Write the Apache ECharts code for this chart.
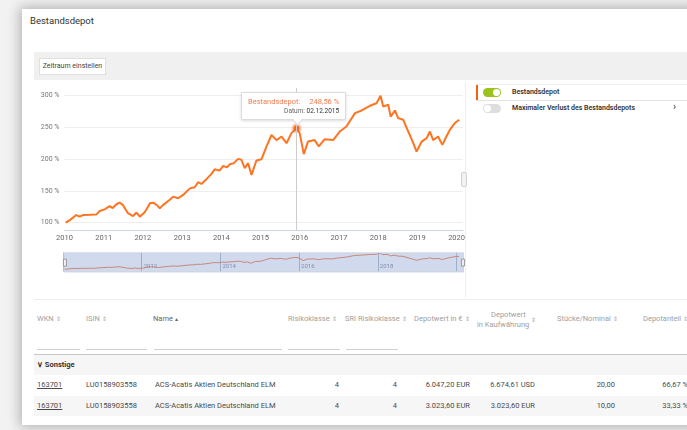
<!DOCTYPE html>
<html>
<head>
<meta charset="utf-8">
<script src="https://cdn.jsdelivr.net/npm/echarts@6/dist/echarts.min.js"></script>
<style>
  html, body { margin:0; padding:0; }
  body { width:687px; height:430px; overflow:hidden; background:#f2f2f2; position:relative; font-family: Roboto, "Open Sans", "Liberation Sans", sans-serif; color:#333; }
  .abs { position:absolute; white-space:nowrap; }
  #card { position:absolute; left:22px; top:9px; width:720px; height:416px; background:#fff; box-shadow:0 0 12px 2px rgba(0,0,0,0.28); }
  .hline { position:absolute; height:1px; }
  .vline { position:absolute; width:1px; }
  .th { position:absolute; font-size:7.5px; color:#a0a0a0; white-space:nowrap; }
  .sort { font-size:6px; margin-left:2px; color:#aaa; }
  .td { position:absolute; font-size:7.5px; color:#4a4a4a; white-space:nowrap; line-height:10px; }
  .r { text-align:right; }
  .toggle { position:absolute; width:18px; height:9px; border-radius:5px; }
  .knob { position:absolute; top:1px; width:7px; height:7px; border-radius:50%; background:#fff; }
  #chart { position:absolute; left:0; top:0; width:687px; height:430px; }
</style>
</head>
<body>
<div id="card"></div>
<div class="abs" style="left:30px;top:15px;font-size:9.5px;color:#333;">Bestandsdepot</div>
<div class="abs" style="left:34px;top:52px;width:660px;height:28px;background:#f0f0f0;"></div>
<div class="abs" style="left:39px;top:58px;width:67px;height:17px;background:#fff;border:1px solid #e0e0e0;box-sizing:border-box;font-size:7px;line-height:15px;text-align:center;color:#444;">Zeitraum einstellen</div>

<!-- chart container border + grip -->
<div class="vline" style="left:465px;top:82px;height:215px;background:#eee;"></div>
<div class="abs" style="left:461px;top:172px;width:6px;height:15px;background:#f2f2f2;border:1px solid #d0d0d0;border-radius:2px;box-sizing:border-box;"></div>

<!-- legend panel -->
<div class="hline" style="left:476px;top:84px;width:211px;background:#eee;"></div>
<div class="abs" style="left:476px;top:85px;width:2px;height:15px;background:#f5620f;"></div>
<div class="toggle" style="left:483px;top:88px;background:#9bc31c;"><div class="knob" style="left:10px;"></div></div>
<div class="abs" style="left:512px;top:88px;font-size:7px;font-weight:600;color:#333;">Bestandsdepot</div>
<div class="hline" style="left:476px;top:100px;width:211px;background:#e2e2e2;"></div>
<div class="toggle" style="left:483px;top:104px;background:#dedede;"><div class="knob" style="left:1px;"></div></div>
<div class="abs" style="left:512px;top:104px;font-size:7px;font-weight:600;color:#333;">Maximaler Verlust des Bestandsdepots</div>
<div class="abs" style="left:673px;top:101px;font-size:10px;color:#333;">&#x203A;</div>

<!-- separator below chart -->
<div class="hline" style="left:34px;top:299px;width:653px;background:#eee;"></div>

<!-- table header -->
<div class="th" style="left:37px;top:314px;">WKN<span class="sort">&#x21D5;</span></div>
<div class="th" style="left:86px;top:314px;">ISIN<span class="sort">&#x21D5;</span></div>
<div class="th" style="left:153px;top:314px;color:#666;">Name<span class="sort" style="color:#666;">&#x25B4;</span></div>
<div class="th" style="left:288px;top:314px;">Risikoklasse<span class="sort">&#x21D5;</span></div>
<div class="th" style="left:345px;top:314px;">SRI Risikoklasse<span class="sort">&#x21D5;</span></div>
<div class="th" style="left:414px;top:314px;">Depotwert in &#8364;<span class="sort">&#x21D5;</span></div>
<div class="th" style="left:491px;top:310px;">Depotwert</div>
<div class="th" style="left:477px;top:320px;">in Kaufw&auml;hrung</div>
<div class="th" style="left:529px;top:315px;"><span class="sort">&#x21D5;</span></div>
<div class="th" style="left:557px;top:314px;">St&uuml;cke/Nominal<span class="sort">&#x21D5;</span></div>
<div class="th" style="left:643px;top:314px;">Depotanteil<span class="sort">&#x21D5;</span></div>

<div class="hline" style="left:37px;top:349px;width:43px;background:#d0d0d0;"></div>
<div class="hline" style="left:86px;top:349px;width:61px;background:#d0d0d0;"></div>
<div class="hline" style="left:154px;top:349px;width:128px;background:#d0d0d0;"></div>
<div class="hline" style="left:288px;top:349px;width:52px;background:#d0d0d0;"></div>
<div class="hline" style="left:346px;top:349px;width:52px;background:#d0d0d0;"></div>
<div class="hline" style="left:34px;top:354px;width:653px;background:#c8c8c8;"></div>

<!-- group + rows -->
<div class="abs" style="left:34px;top:355px;width:653px;height:20px;background:#f6f6f6;"></div>
<div class="td" style="left:37px;top:360px;font-weight:700;color:#333;">&#x2228; Sonstige</div>
<div class="abs" style="left:34px;top:396px;width:653px;height:20px;background:#f6f6f6;"></div>

<div class="td" style="left:37px;top:380px;text-decoration:underline;">163701</div>
<div class="td" style="left:86px;top:380px;">LU0158903558</div>
<div class="td" style="left:155px;top:380px;">ACS-Acatis Aktien Deutschland ELM</div>
<div class="td r" style="left:309px;top:380px;width:30px;">4</div>
<div class="td r" style="left:367px;top:380px;width:30px;">4</div>
<div class="td r" style="left:410px;top:380px;width:60px;">6.047,20 EUR</div>
<div class="td r" style="left:475px;top:380px;width:60px;">6.674,61 USD</div>
<div class="td r" style="left:575px;top:380px;width:40px;">20,00</div>
<div class="td r" style="left:640px;top:380px;width:48px;">66,67 %</div>

<div class="td" style="left:37px;top:401px;text-decoration:underline;">163701</div>
<div class="td" style="left:86px;top:401px;">LU0158903558</div>
<div class="td" style="left:155px;top:401px;">ACS-Acatis Aktien Deutschland ELM</div>
<div class="td r" style="left:309px;top:401px;width:30px;">4</div>
<div class="td r" style="left:367px;top:401px;width:30px;">4</div>
<div class="td r" style="left:410px;top:401px;width:60px;">3.023,60 EUR</div>
<div class="td r" style="left:475px;top:401px;width:60px;">3.023,60 EUR</div>
<div class="td r" style="left:575px;top:401px;width:40px;">10,00</div>
<div class="td r" style="left:640px;top:401px;width:48px;">33,33 %</div>

<div id="chart"></div>
<script>
// ---- data ----
const SERIES_NAME = 'Bestandsdepot';
const dates = ['2010-01-12','2010-02-20','2010-04-20','2010-05-22','2010-06-22','2010-08-25','2010-10-26','2010-11-25',
'2011-01-10','2011-02-27','2011-03-25','2011-04-30','2011-05-30','2011-06-28','2011-07-16','2011-08-15','2011-10-01','2011-11-03','2011-12-03',
'2012-01-20','2012-03-07','2012-04-05','2012-05-08','2012-06-07','2012-07-08','2012-09-08','2012-10-09','2012-11-24',
'2013-01-10','2013-03-14','2013-04-28','2013-05-29','2013-06-29','2013-08-15','2013-10-01','2013-10-31','2013-12-16',
'2014-01-18','2014-02-22','2014-03-22','2014-04-27','2014-06-06','2014-07-07','2014-08-07','2014-09-07','2014-10-09','2014-11-24',
'2015-01-10','2015-02-26','2015-04-13','2015-05-30','2015-07-16','2015-08-31','2015-10-16','2015-12-02',
'2016-01-01','2016-02-08','2016-03-18','2016-05-19','2016-06-27','2016-08-21','2016-11-07',
'2017-01-08','2017-03-11','2017-05-30','2017-07-31','2017-10-16','2017-12-16',
'2018-01-23','2018-02-17','2018-04-05','2018-04-27','2018-06-06','2018-07-06','2018-08-22','2018-10-08','2018-11-18','2018-12-25',
'2019-02-10','2019-03-28','2019-04-28','2019-05-28','2019-07-13','2019-08-22','2019-09-28','2019-10-30','2019-12-16',
'2020-01-26'];
const values = [100,104,112,109.5,112,112.5,113,118.5,
121,126,123,129,131.5,128,126,115,110.5,116,109.5,
117,130.5,131.5,128,122.7,128,136,141,138.5,
143.7,154,155.8,163.7,161,168.5,176.8,184,182,
189.4,187,192,193.7,200.4,199,185.8,193.7,175,198,
200,220,238,230,235.6,225,241,248.56,
241,208,227.7,230,220,231.5,230,
243.5,251.4,272.5,276.6,284,288,
299.8,283,285.6,267,276.6,264.6,262,243.5,227.7,212,
227.7,233,243.5,230,235.6,222.5,235.6,246,256.8,
262];
const yTicks = [100,150,200,250,300];
const navigatorYears = [2012,2014,2016,2018];
const TOOLTIP_DATE = '2015-12-02';
const X_MIN = '2010-01-01', X_MAX = '2020-03-01';

const seriesData = dates.map((d, i) => [d, values[i]]);
const ORANGE = '#f96a1e';
const YEAR = 365.25 * 24 * 3600 * 1000;
const FONT = 'Roboto, "Open Sans", sans-serif';

function fmtDate(v) {
  const d = new Date(v);
  const p = n => String(n).padStart(2, '0');
  return p(d.getDate()) + '.' + p(d.getMonth() + 1) + '.' + d.getFullYear();
}
function fmtNum(v) { return v.toFixed(2).replace('.', ','); }

const chart = echarts.init(document.getElementById('chart'), null, { renderer: 'canvas' });
chart.setOption({
  animation: false,
  textStyle: { fontFamily: FONT },
  grid: [
    { left: 64.5, right: 224, top: 88, bottom: 200 },
    { left: 63, right: 224, top: 252.3, height: 19.4, show: true, backgroundColor: '#fff', borderWidth: 0 }
  ],
  xAxis: [
    { type: 'time', gridIndex: 0, min: X_MIN, max: X_MAX, splitNumber: 10, minInterval: YEAR * 0.9, maxInterval: YEAR * 1.1,
      axisLine: { lineStyle: { color: '#ccd6eb' } }, axisTick: { show: false }, splitLine: { show: false },
      axisLabel: { color: '#666', fontSize: 7.5, margin: 4, showMinLabel: true, hideOverlap: false,
        formatter: v => String(new Date(v).getFullYear()) } },
    { type: 'time', gridIndex: 1, min: X_MIN, max: X_MAX, splitNumber: 5, minInterval: YEAR * 1.9, maxInterval: YEAR * 2.1,
      axisLine: { show: false }, axisTick: { show: false },
      splitLine: { show: true, showMinLine: false, showMaxLine: false, lineStyle: { color: '#b9c1d2', width: 1 } },
      axisLabel: { inside: true, color: '#8a93a6', fontSize: 6, margin: 2, align: 'left', padding: [0, 0, 0, 2],
        showMinLabel: false, showMaxLabel: false,
        formatter: v => { const y = new Date(v).getFullYear(); return navigatorYears.indexOf(y) >= 0 ? String(y) : ''; } } }
  ],
  yAxis: [
    { type: 'value', gridIndex: 0, min: 88.5, max: 312,
      axisLine: { show: false }, axisTick: { show: false },
      splitLine: { show: true, showMinLine: false, showMaxLine: false, lineStyle: { color: '#eeeeee' } },
      axisLabel: { color: '#777', fontSize: 7, margin: 5, showMinLabel: false, showMaxLabel: false,
        formatter: v => (yTicks.indexOf(v) >= 0 ? v + ' %' : '') } },
    { type: 'value', gridIndex: 1, min: 70, max: 312, show: false }
  ],
  tooltip: {
    trigger: 'axis',
    alwaysShowContent: true,
    showDelay: 0,
    transitionDuration: 0,
    backgroundColor: '#fff',
    borderColor: '#dcdcdc',
    borderWidth: 1,
    padding: [4, 6, 3, 6],
    extraCssText: 'box-shadow:0 1px 3px rgba(0,0,0,0.15);border-radius:1px;overflow:visible;',
    axisPointer: { type: 'line', lineStyle: { color: '#cccccc', width: 1, type: 'solid' }, animation: false },
    position: function (point, params, dom, rect, size) {
      return [point[0] - 55, point[1] - size.contentSize[1] - 8];
    },
    formatter: function (params) {
      const p = params[0];
      return '<div style="position:relative;font-family:' + FONT.replace(/"/g, "'") + ';">' +
        '<div style="font-size:7.5px;line-height:10px;color:#f47a4f;white-space:nowrap;">' + p.seriesName + ':<span style="margin-left:9px;">' + fmtNum(p.value[1]) + ' %</span></div>' +
        '<div style="font-size:6.5px;line-height:9px;color:#666;text-align:right;white-space:nowrap;">Datum: <span style="color:#333;">' + fmtDate(p.value[0]) + '</span></div>' +
        '<div style="position:absolute;left:46px;bottom:-8px;width:6px;height:6px;background:#fff;border-right:1px solid #dcdcdc;border-bottom:1px solid #dcdcdc;transform:rotate(45deg);"></div>' +
        '</div>';
    }
  },
  dataZoom: [{
    type: 'slider', xAxisIndex: [0, 1], filterMode: 'none', start: 0, end: 100,
    left: 63, right: 224, top: 252.3, height: 19.4,
    showDataShadow: false, showDetail: false, brushSelect: false, moveHandleSize: 0,
    backgroundColor: 'transparent', borderColor: '#cdd4e2',
    fillerColor: 'rgba(102,133,194,0.3)',
    handleIcon: 'path://M0,0 L3,0 L3,7 L0,7 Z', handleSize: 7,
    handleStyle: { color: '#f2f2f2', borderColor: '#999', borderWidth: 1 },
    dataBackground: { lineStyle: { opacity: 0 }, areaStyle: { opacity: 0 } },
    selectedDataBackground: { lineStyle: { opacity: 0 }, areaStyle: { opacity: 0 } },
    textStyle: { color: 'transparent' }
  }],
  series: [
    { name: SERIES_NAME, type: 'line', xAxisIndex: 0, yAxisIndex: 0, data: seriesData,
      showSymbol: false, symbol: 'circle', symbolSize: 6,
      lineStyle: { color: ORANGE, width: 2 }, itemStyle: { color: ORANGE },
      emphasis: { scale: false, itemStyle: { color: ORANGE, borderColor: 'rgba(249,106,30,0.35)', borderWidth: 4 } } },
    { name: SERIES_NAME + ' (Navigator)', type: 'line', xAxisIndex: 1, yAxisIndex: 1, data: seriesData,
      showSymbol: false, silent: true, tooltip: { show: false },
      lineStyle: { color: '#f2885c', width: 1 } }
  ]
});
chart.dispatchAction({ type: 'showTip', seriesIndex: 0, dataIndex: dates.indexOf(TOOLTIP_DATE) });
</script>
</body>
</html>
